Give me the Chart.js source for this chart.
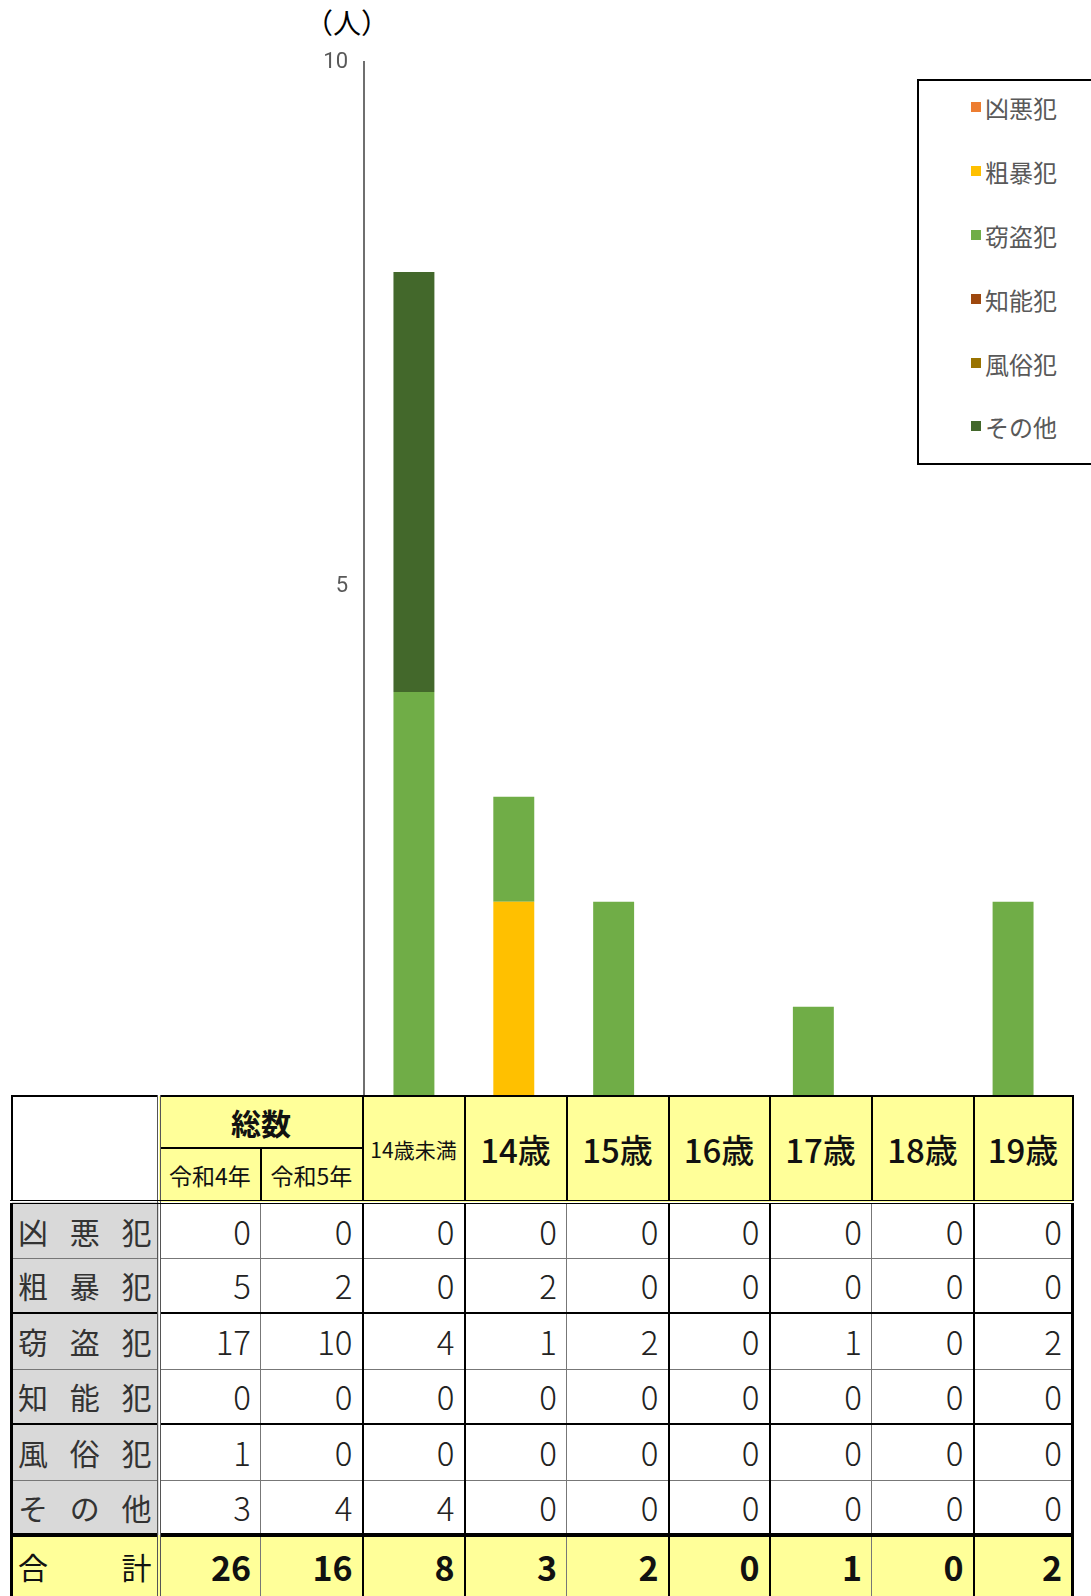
<!DOCTYPE html>
<html lang="ja">
<head>
<meta charset="utf-8">
<script src="https://cdn.jsdelivr.net/npm/chart.js@4.4.1/dist/chart.umd.min.js"></script>
<style>
  body { margin: 0; background: #fff; font-family: "Noto Sans CJK JP", "Noto Sans", sans-serif; }
  #page { position: relative; width: 1091px; height: 1596px; overflow: hidden; }
  #unit { position: absolute; left: 305px; top: 2px; font-size: 28px; color: #000; }
  #chartWrap { position: absolute; left: 0; top: 0; width: 1091px; height: 1141px; }
  #legend { position: absolute; left: 917px; top: 79px; width: 190px; height: 382px; border: 2px solid #000; background: #fff; }
  .lg { position: absolute; left: 52px; height: 30px; display: flex; align-items: center; font-size: 24px; color: #595959; }
  .lg i { display: inline-block; width: 10px; height: 10px; margin-right: 4px; }
  #tbl { position: absolute; left: 10px; top: 1095px; z-index: 2; border-collapse: collapse; table-layout: fixed; width: 1061px; background: #fff; }
  #tbl td { padding: 0; box-sizing: border-box; border: 1px solid #777; }
  .hd { background: #ffff99; text-align: center; color: #111; border: 2px solid #000 !important; }
  .sub { border-bottom: 4px double #000 !important; }
  .rl { background: #d9d9d9; color: #333; font-size: 30px; border-right: 4px double #555 !important; }
  .rl div { display: flex; justify-content: space-between; padding: 0 5px 0 5px; }
  .num { text-align: right; font-size: 33px; font-weight: 300; color: #222; padding-right: 9px !important; }
  .tot td { background: #ffff99; border-top: 4px solid #000 !important; }
  .tot .num { font-weight: bold; color: #111; font-size: 34px; }
  .tot .rl { color: #111; }
</style>
</head>
<body>
<div id="page">
  <div id="unit">（人）</div>
  <div id="chartWrap"><canvas id="crimeChart" width="1091" height="1141"></canvas></div>
  <div id="legend"></div>
  <table id="tbl"></table>
</div>
<script>
// age groups shown as bars
const ageLabels = ["14歳未満", "14歳", "15歳", "16歳", "17歳", "18歳", "19歳"];
const crimeNames = ["凶悪犯", "粗暴犯", "窃盗犯", "知能犯", "風俗犯", "その他"];
const crimeColors = ["#ED7D31", "#FFC000", "#70AD47", "#9E480E", "#997300", "#43682B"];

// values by age group, one array per crime type
const kyoakuhan = [0, 0, 0, 0, 0, 0, 0];
const sobohan   = [0, 2, 0, 0, 0, 0, 0];
const settouhan = [4, 1, 2, 0, 1, 0, 2];
const chinouhan = [0, 0, 0, 0, 0, 0, 0];
const fuzokuhan = [0, 0, 0, 0, 0, 0, 0];
const sonota    = [4, 0, 0, 0, 0, 0, 0];

// totals columns (令和4年, 令和5年)
const yearLabels = ["令和4年", "令和5年"];
const reiwa4 = [0, 5, 17, 0, 1, 3];
const reiwa5 = [0, 2, 10, 0, 0, 4];
const totalYears = [26, 16];
const totalAges = [8, 3, 2, 0, 1, 0, 2];

const yTicks = [0, 5, 10];

const byCrime = [kyoakuhan, sobohan, settouhan, chinouhan, fuzokuhan, sonota];

// --- chart ---
const ctx = document.getElementById("crimeChart");
const datasets = crimeNames.map((name, i) => ({
  label: name,
  data: byCrime[i],
  backgroundColor: crimeColors[i],
  borderWidth: 0,
  barPercentage: 0.41,
  categoryPercentage: 1.0,
}));

new Chart(ctx, {
  type: "bar",
  data: { labels: ageLabels, datasets: datasets },
  options: {
    responsive: false,
    animation: false,
    layout: { padding: { top: 62, right: 28, bottom: 21, left: 0 } },
    plugins: { legend: { display: false }, tooltip: { enabled: false } },
    scales: {
      x: { stacked: true, display: false },
      y: {
        stacked: true,
        min: yTicks[0],
        max: yTicks[yTicks.length - 1],
        afterBuildTicks: (scale) => { scale.ticks = yTicks.map(v => ({ value: v })); },
        ticks: {
          padding: 16,
          color: "#595959",
          font: { size: 22, family: "Roboto" },
          callback: (v) => (v === 0 ? "" : v),
        },
        grid: { display: false, drawTicks: false },
        border: { color: "#6f6f6f", width: 2 },
        afterFit: (scale) => { scale.width = 364; },
      },
    },
  },
});

// --- legend ---
const legend = document.getElementById("legend");
const legendTops = [11, 75, 139, 203, 267, 330];
crimeNames.forEach((name, i) => {
  const d = document.createElement("div");
  d.className = "lg";
  d.style.top = legendTops[i] + "px";
  d.innerHTML = `<i style="background:${crimeColors[i]}"></i>${name}`;
  legend.appendChild(d);
});

// --- table ---
const colWidths = [147, 102, 102, 102, 102, 102, 101, 102, 102, 99];
// vertical line weights in data rows (right border of each value column)
const thickRight = [false, true, true, false, true, true, false, true, false];
const rowHeights = [56, 55, 56, 55, 56, 55];

const tbl = document.getElementById("tbl");
let html = "<colgroup>" + colWidths.map(w => `<col style="width:${w}px">`).join("") + "</colgroup>";
html += `<tr style="height:52px">
  <td rowspan="2" style="border:2px solid #000;border-right:4px double #555;border-bottom:4px double #000;background:#fff"></td>
  <td colspan="2" class="hd" style="font-size:30px;font-weight:bold">総数</td>
  <td rowspan="2" class="hd sub" style="font-size:21px">${ageLabels[0]}</td>`;
ageLabels.slice(1).forEach(a => {
  html += `<td rowspan="2" class="hd sub" style="font-size:33px;font-weight:500">${a}</td>`;
});
html += "</tr><tr style='height:54px'>";
yearLabels.forEach(y => { html += `<td class="hd sub" style="font-size:23px">${y}</td>`; });
html += "</tr>";

crimeNames.forEach((name, r) => {
  const vals = [reiwa4[r], reiwa5[r]].concat(byCrime[r]);
  const bottom = (r % 2 === 1) ? "border-bottom:2px solid #000;" : "";
  html += `<tr style="height:${rowHeights[r]}px">`;
  html += `<td class="rl" style="${bottom}border-left:3px solid #000"><div>${name.split("").map(c => `<span>${c}</span>`).join("")}</div></td>`;
  vals.forEach((v, c) => {
    const right = thickRight[c] ? "border-right:2px solid #000;" : "";
    const edge = c === vals.length - 1 ? "border-right:3px solid #000;" : "";
    html += `<td class="num" style="${bottom}${right}${edge}">${v}</td>`;
  });
  html += "</tr>";
});

html += `<tr class="tot" style="height:62px">`;
html += `<td class="rl" style="background:#ffff99;border-left:3px solid #000;border-bottom:3px solid #000"><div><span>合</span><span>計</span></div></td>`;
totalYears.concat(totalAges).forEach((v, c, arr) => {
  const right = thickRight[c] ? "border-right:2px solid #000;" : "border-right:1px solid #777;";
  const edge = c === arr.length - 1 ? "border-right:3px solid #000;" : "";
  html += `<td class="num" style="${right}${edge}border-bottom:3px solid #000">${v}</td>`;
});
html += "</tr>";
tbl.innerHTML = html;
</script>
</body>
</html>
